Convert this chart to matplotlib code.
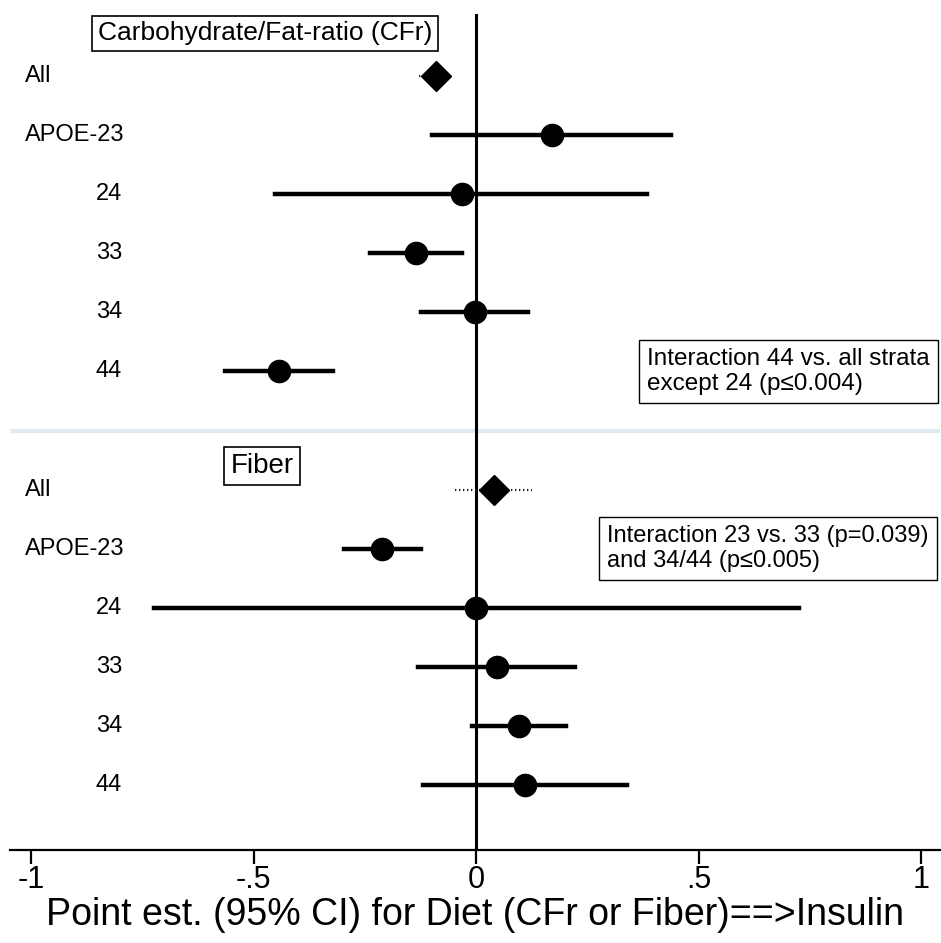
import matplotlib.pyplot as plt
from matplotlib.transforms import blended_transform_factory

# row labels, top to bottom within each panel
row_labels = ["All", "APOE-23", "24", "33", "34", "44"]

# Carbohydrate/Fat-ratio estimates (point, lower, upper)
cfr_est = [-0.091, 0.169, -0.033, -0.136, -0.003, -0.444]
cfr_lo = [-0.129, -0.100, -0.453, -0.239, -0.125, -0.565]
cfr_hi = [-0.057, 0.437, 0.383, -0.033, 0.116, -0.322]

# Fiber estimates (point, lower, upper)
fib_est = [0.039, -0.212, 0.000, 0.046, 0.096, 0.109]
fib_lo = [-0.048, -0.298, -0.725, -0.132, -0.010, -0.120]
fib_hi = [0.125, -0.124, 0.725, 0.221, 0.201, 0.338]

xticks = [-1, -0.5, 0, 0.5, 1]
xtick_labels = ["-1", "-.5", "0", ".5", "1"]

font = "Liberation Sans"

fig = plt.figure(figsize=(9.41, 9.43), dpi=100)
ax = fig.add_axes([10 / 941, 1 - 850 / 943, 930 / 941, 836 / 943])
# x in figure fraction, y in data rows
lab_tr = blended_transform_factory(fig.transFigure, ax.transData)

ax.set_xlim(-1.048, 1.042)
ax.set_ylim(13.1, -1.05)
ax.axvline(0, color="black", lw=2.2, zorder=1)
ax.axhline(6, color="#e1eaee", lw=3, zorder=0)

for y0, est, lo, hi in [(0, cfr_est, cfr_lo, cfr_hi), (7, fib_est, fib_lo, fib_hi)]:
    for i in range(len(est)):
        y = y0 + i
        if i == 0:
            ax.plot([lo[i], hi[i]], [y, y], color="#222222", lw=1.6,
                    ls=(0, (0.6, 1.2)), zorder=2)
            ax.plot(est[i], y, marker="D", ms=15, color="black", zorder=3)
        else:
            ax.plot([lo[i], hi[i]], [y, y], color="black", lw=3.2, zorder=2)
            ax.plot(est[i], y, marker="o", ms=16, color="black", zorder=3)
        if i < 2:
            ax.text(25 / 941, y, row_labels[i], transform=lab_tr,
                    ha="left", va="center", fontsize=17, family=font)
        else:
            ax.text(122 / 941, y, row_labels[i], transform=lab_tr,
                    ha="right", va="center", fontsize=17, family=font)

box = dict(boxstyle="square,pad=0.22", fc="white", ec="black", lw=1.2)
ax.text(-0.475, -0.72, "Carbohydrate/Fat-ratio (CFr)", ha="center", va="center",
        fontsize=19, family=font, bbox=box)
ax.text(-0.482, 6.6, "Fiber", ha="center", va="center",
        fontsize=20, family=font, bbox=box)
note = dict(boxstyle="square,pad=0.35", fc="white", ec="black", lw=1)
ax.text(0.384, 5.0, "Interaction 44 vs. all strata\nexcept 24 (p\u22640.004)",
        ha="left", va="center", fontsize=17.5, family=font, linespacing=1.15,
        bbox=note)
ax.text(0.294, 8.0, "Interaction 23 vs. 33 (p=0.039)\nand 34/44 (p\u22640.005)",
        ha="left", va="center", fontsize=17, family=font, linespacing=1.15,
        bbox=note)

for s in ["top", "left", "right"]:
    ax.spines[s].set_visible(False)
ax.spines["bottom"].set_linewidth(1.6)
ax.set_yticks([])
ax.set_xticks(xticks)
ax.set_xticklabels(xtick_labels, family=font, fontsize=22)
ax.tick_params(axis="x", length=10, width=1.6, pad=1)
ax.set_xlabel("Point est. (95% CI) for Diet (CFr or Fiber)==>Insulin",
              family=font, fontsize=27, labelpad=1)

fig.savefig("out.png", dpi=100)
